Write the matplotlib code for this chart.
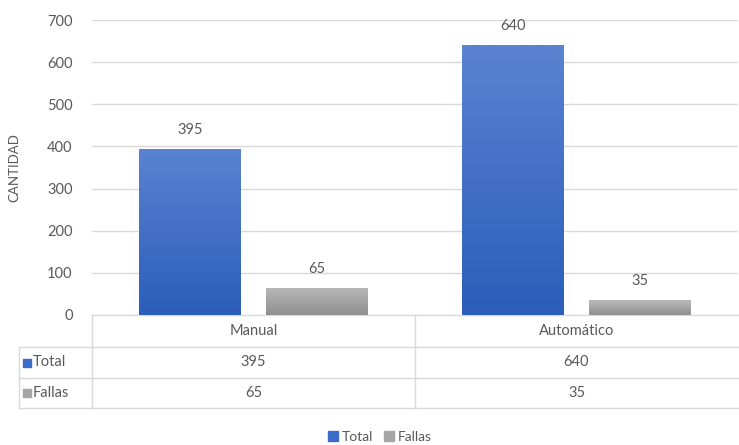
import numpy as np
import matplotlib
matplotlib.use("Agg")
import matplotlib.pyplot as plt
from matplotlib.patches import Patch
from matplotlib.colors import LinearSegmentedColormap

# --- data ---
categories = ["Manual", "Automático"]
series_names = ["Total", "Fallas"]
total = [395, 640]
fallas = [65, 35]
yticks = [0, 100, 200, 300, 400, 500, 600, 700]

W, H = 739, 445
TXT = "#595959"
GRID = "#d9d9d9"
BLUE = "#3c6cc9"
GREY = "#a5a5a5"
FS = 10.5
plt.rcParams["font.family"] = ["Lato", "DejaVu Sans"]

fig = plt.figure(figsize=(W / 100, H / 100), dpi=100)
ax = fig.add_axes([92 / W, 1 - 315 / H, (738 - 92) / W, (315 - 20) / H])

x = np.arange(len(categories))
bw, gap = 0.315, 0.078
off = (bw + gap) / 2
b1 = ax.bar(x - off, total, bw, color=BLUE, zorder=2)
b2 = ax.bar(x + off, fallas, bw, color=GREY, zorder=2)

# vertical gradient inside each bar, like the Office fill
cm_blue = LinearSegmentedColormap.from_list("b", ["#2b5db9", "#5a83d1"])
cm_grey = LinearSegmentedColormap.from_list("g", ["#8f8f8f", "#b9b9b9"])
grad = np.linspace(0, 1, 256).reshape(-1, 1)
for bars, cmap in ((b1, cm_blue), (b2, cm_grey)):
    for b in bars:
        x0, y0 = b.get_x(), b.get_y()
        im = ax.imshow(grad, cmap=cmap, origin="lower", aspect="auto",
                       extent=[x0, x0 + b.get_width(), y0, y0 + b.get_height()],
                       zorder=3)
        im.set_clip_path(b)
        ax.text(x0 + b.get_width() / 2, b.get_height() + 28, f"{b.get_height():.0f}",
                ha="center", va="bottom", fontsize=FS, color=TXT)

ax.set_xlim(-0.5, len(categories) - 0.5)
ax.set_ylim(0, 700)
ax.set_yticks(yticks)
ax.yaxis.grid(True, color=GRID, lw=1, zorder=0)
ax.set_xticks([])
ax.tick_params(axis="y", length=0, labelsize=FS, labelcolor=TXT, pad=14)
for s in ax.spines.values():
    s.set_visible(False)
ax.set_ylabel("CANTIDAD", fontsize=9.5, color=TXT, labelpad=8)
ax.yaxis.set_label_coords(-72 / 646, 0.5)

# --- data table under the plot, drawn in pixel coords ---
tab = fig.add_axes([0, 0, 1, 1], zorder=-1)
tab.set_xlim(0, W)
tab.set_ylim(H, 0)
tab.axis("off")

to_px = lambda v: ax.transData.transform((v, 0))[0]
col_edges = [to_px(v) for v in np.arange(len(categories) + 1) - 0.5]
left = 19
rows_y = [315, 347, 378, 408]
lc = dict(color=GRID, lw=1)
tab.plot([col_edges[0], col_edges[-1]], [rows_y[0]] * 2, **lc)
for yy in rows_y[1:]:
    tab.plot([left, col_edges[-1]], [yy, yy], **lc)
tab.plot([left, left], [rows_y[1], rows_y[3]], **lc)
for xe in col_edges[:-1]:
    tab.plot([xe, xe], [rows_y[0], rows_y[3]], **lc)

for i, cat in enumerate(categories):
    cx = (col_edges[i] + col_edges[i + 1]) / 2
    tab.text(cx, (rows_y[0] + rows_y[1]) / 2, cat, ha="center", va="center",
             fontsize=FS, color=TXT)
    for r, vals in enumerate((total, fallas)):
        tab.text(cx, (rows_y[r + 1] + rows_y[r + 2]) / 2, str(vals[i]),
                 ha="center", va="center", fontsize=FS, color=TXT)

for r, (name, col) in enumerate(zip(series_names, (BLUE, GREY))):
    cy = (rows_y[r + 1] + rows_y[r + 2]) / 2
    tab.scatter([left + 8], [cy], marker="s", s=30, color=col)
    tab.text(left + 14, cy, name, ha="left", va="center", fontsize=FS, color=TXT)

handles = [Patch(color=BLUE, label=series_names[0]),
           Patch(color=GREY, label=series_names[1])]
leg = fig.legend(handles=handles, loc="center", bbox_to_anchor=(380 / W, 1 - 437 / H),
                 ncol=2, frameon=False, fontsize=10, handlelength=0.7,
                 handleheight=0.7, handletextpad=0.3, columnspacing=0.8)
for t in leg.get_texts():
    t.set_color(TXT)

fig.savefig("out.png", dpi=100)
